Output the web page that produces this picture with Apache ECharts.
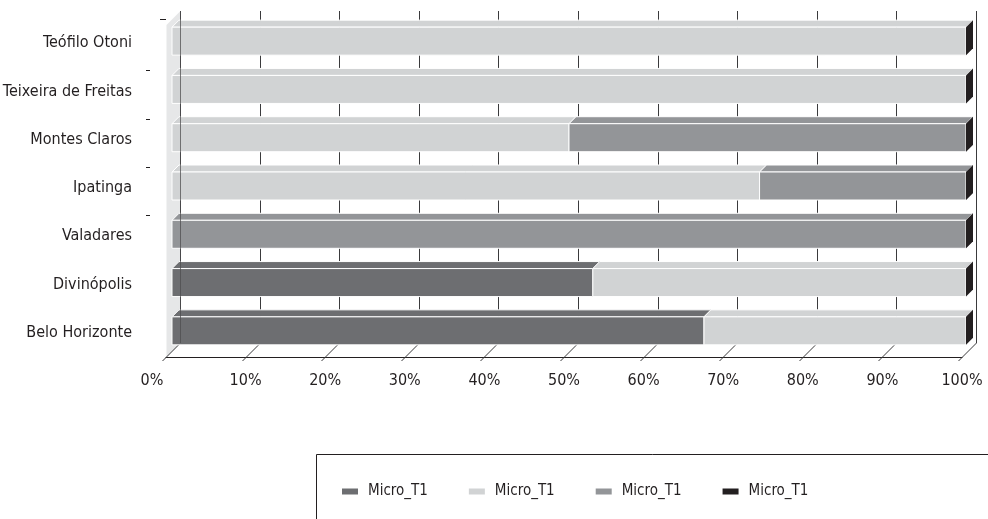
<!DOCTYPE html>
<html>
<head>
<meta charset="utf-8">
<script src="https://cdn.jsdelivr.net/npm/echarts@6/dist/echarts.min.js"></script>
<style>
  html, body { margin: 0; padding: 0; background: #ffffff; }
  #chart { width: 988px; height: 519px; }
</style>
</head>
<body>
<div id="chart"></div>
<script>
// ---- data ----
const categories = ['Teófilo Otoni', 'Teixeira de Freitas', 'Montes Claros', 'Ipatinga', 'Valadares', 'Divinópolis', 'Belo Horizonte'];
const darkValues  = [0, 0, 0, 0, 0, 53, 67];
const lightValues = [100, 100, 50, 74, 0, 47, 33];
const midValues   = [0, 0, 50, 26, 100, 0, 0];
const blackValues = [0, 0, 0, 0, 0, 0, 0];
const legendLabel = 'Micro_T1';
const seriesNames = ['Micro_T1 (1)', 'Micro_T1 (2)', 'Micro_T1 (3)', 'Micro_T1 (4)'];
const xTicks = [0, 10, 20, 30, 40, 50, 60, 70, 80, 90, 100];

// ---- style ----
const colors = ['#6d6e71', '#d1d3d4', '#939598', '#231f20'];
const FONT = '"DejaVu Sans Condensed", "Liberation Sans Narrow", sans-serif';
const TEXT = '#231f20';
const D = 14;          // depth of the 3D box
const BAR_OFF = 6;     // bar front face offset into depth
const BAR_DEPTH = 7;   // bar depth
const FRONT_H = 28;    // bar front face height
const Y_SHIFT = -2;
const SHRINK = 2;      // bar front plane is slightly shorter than the floor

const allValues = [darkValues, lightValues, midValues, blackValues];

// stacked data [start, end, categoryIndex]
function stacked(k) {
  return categories.map((c, i) => {
    let start = 0;
    for (let j = 0; j < k; j++) start += allValues[j][i];
    return [start, start + allValues[k][i], i];
  });
}

function barRender(k) {
  return function (params, api) {
    const s = api.value(0), e = api.value(1), cat = api.value(2);
    const isLast = (k === allValues.length - 1);
    if (e - s <= 0 && !isLast) return null;
    const p0 = api.coord([s, cat]);
    const p1 = api.coord([e, cat]);
    const x0 = p0[0] + BAR_OFF - SHRINK * s / 100;
    const x1 = p1[0] + BAR_OFF - SHRINK * e / 100;
    const yc = p0[1] + Y_SHIFT;
    const top = yc - FRONT_H / 2, bot = yc + FRONT_H / 2;
    const color = colors[k];
    const children = [];
    if (x1 > x0) {
      children.push({
        type: 'polygon',
        shape: { points: [[x0, top], [x0 + BAR_DEPTH, top - BAR_DEPTH], [x1 + BAR_DEPTH, top - BAR_DEPTH], [x1, top]] },
        style: { fill: color, stroke: '#ffffff', lineWidth: 1 }
      });
      children.push({
        type: 'rect',
        shape: { x: x0, y: top, width: x1 - x0, height: bot - top },
        style: { fill: color, stroke: '#ffffff', lineWidth: 1 }
      });
    }
    children.push({
      type: 'polygon',
      shape: { points: [[x1, top], [x1 + BAR_DEPTH, top - BAR_DEPTH], [x1 + BAR_DEPTH, bot - BAR_DEPTH], [x1, bot]] },
      style: { fill: isLast ? colors[3] : color, stroke: null }
    });
    return { type: 'group', children: children };
  };
}

function frameRender(params, api) {
  const cs = params.coordSys;
  const top = cs.y, bottom = cs.y + cs.height;
  const x = Math.round(api.coord([api.value(0), 0])[0]) + 0.5;
  const children = [];
  if (params.dataIndex === 0) {
    children.push({
      type: 'polygon', z2: 0,
      shape: { points: [[x, bottom], [x, top + 6], [x + D, top + 6 - D], [x + D, bottom - D]] },
      style: { fill: '#e6e7e8', stroke: null }
    });
    const band = api.size([0, 1])[1];
    for (let i = 0; i < 5; i++) {
      const yb = Math.round(api.coord([0, i])[1] - band / 2) + 0.5 + (i === 0 ? 0 : 3);
      const xs = i === 0 ? cs.x - 6 : cs.x - 20;
      const xe = i === 0 ? cs.x : cs.x - 16;
      children.push({
        type: 'line', z2: 2,
        shape: { x1: xs, y1: yb, x2: xe, y2: yb },
        style: { stroke: TEXT, lineWidth: 1 }
      });
    }
  }
  children.push({
    type: 'line', z2: 1,
    shape: { x1: x + D, y1: bottom - D, x2: x + D, y2: top - 8 },
    style: { stroke: '#3a3a3c', lineWidth: 1 }
  });
  children.push({
    type: 'line', z2: 1,
    shape: { x1: x - 4, y1: bottom + 4, x2: x + D, y2: bottom - D },
    style: { stroke: '#3a3a3c', lineWidth: 1 }
  });
  return { type: 'group', children: children };
}

function edgeRender(params, api) {
  const cs = params.coordSys;
  const top = cs.y, bottom = cs.y + cs.height;
  const x = Math.round(api.coord([api.value(0), 0])[0]) + 0.5;
  return {
    type: 'line',
    shape: { x1: x + D, y1: bottom - D, x2: x + D, y2: top - 8 },
    style: { stroke: '#4d4d4f', lineWidth: 1, opacity: 0.75 }
  };
}

const chart = echarts.init(document.getElementById('chart'), null, { renderer: 'canvas' });

const series = [{
  type: 'custom', name: 'frame', z: 1, silent: true,
  data: xTicks.map(v => [v]),
  encode: { x: 0 },
  renderItem: frameRender
}];
seriesNames.forEach((n, k) => {
  series.push({
    type: 'custom', name: n, z: 2,
    itemStyle: { color: colors[k] },
    data: stacked(k),
    encode: { x: [0, 1], y: 2 },
    renderItem: barRender(k)
  });
});
series.push({
  type: 'custom', name: 'edge', z: 3, silent: true,
  data: [[xTicks[0]]],
  encode: { x: 0 },
  renderItem: edgeRender
});

chart.setOption({
  animation: false,
  backgroundColor: '#ffffff',
  grid: { left: 166, right: 26, top: 19, bottom: 162, containLabel: false, outerBoundsMode: 'none' },
  xAxis: {
    type: 'value', min: 0, max: 100, interval: 10,
    axisLine: { show: true, lineStyle: { color: TEXT, width: 1 } },
    axisTick: { show: false },
    splitLine: { show: false },
    axisLabel: {
      margin: 16, fontSize: 16, fontFamily: FONT, color: TEXT,
      hideOverlap: false,
      formatter: v => v === 0 ? '{z|' + v + '%}' : v + '%',
      rich: { z: { padding: [0, 28, 0, 0], fontSize: 16, fontFamily: FONT, color: TEXT } }
    }
  },
  yAxis: {
    type: 'category', data: categories, inverse: true,
    axisLine: { show: false },
    axisTick: { show: false },
    splitLine: { show: false },
    axisLabel: { margin: 34, fontSize: 16, fontFamily: FONT, color: TEXT }
  },
  graphic: [{
    type: 'rect', left: 314, top: 452, z: 0,
    shape: { width: 700, height: 100 },
    style: { fill: 'none', stroke: TEXT, lineWidth: 1 }
  }],
  legend: {
    data: seriesNames,
    left: 342, top: 484,
    width: 640,
    orient: 'horizontal',
    padding: 0,
    itemWidth: 16, itemHeight: 6, itemGap: 41,
    icon: 'rect',
    formatter: () => legendLabel,
    textStyle: { fontSize: 15, fontFamily: FONT, color: TEXT, padding: [0, 0, 0, 5] }
  },
  series: series
});
</script>
</body>
</html>
